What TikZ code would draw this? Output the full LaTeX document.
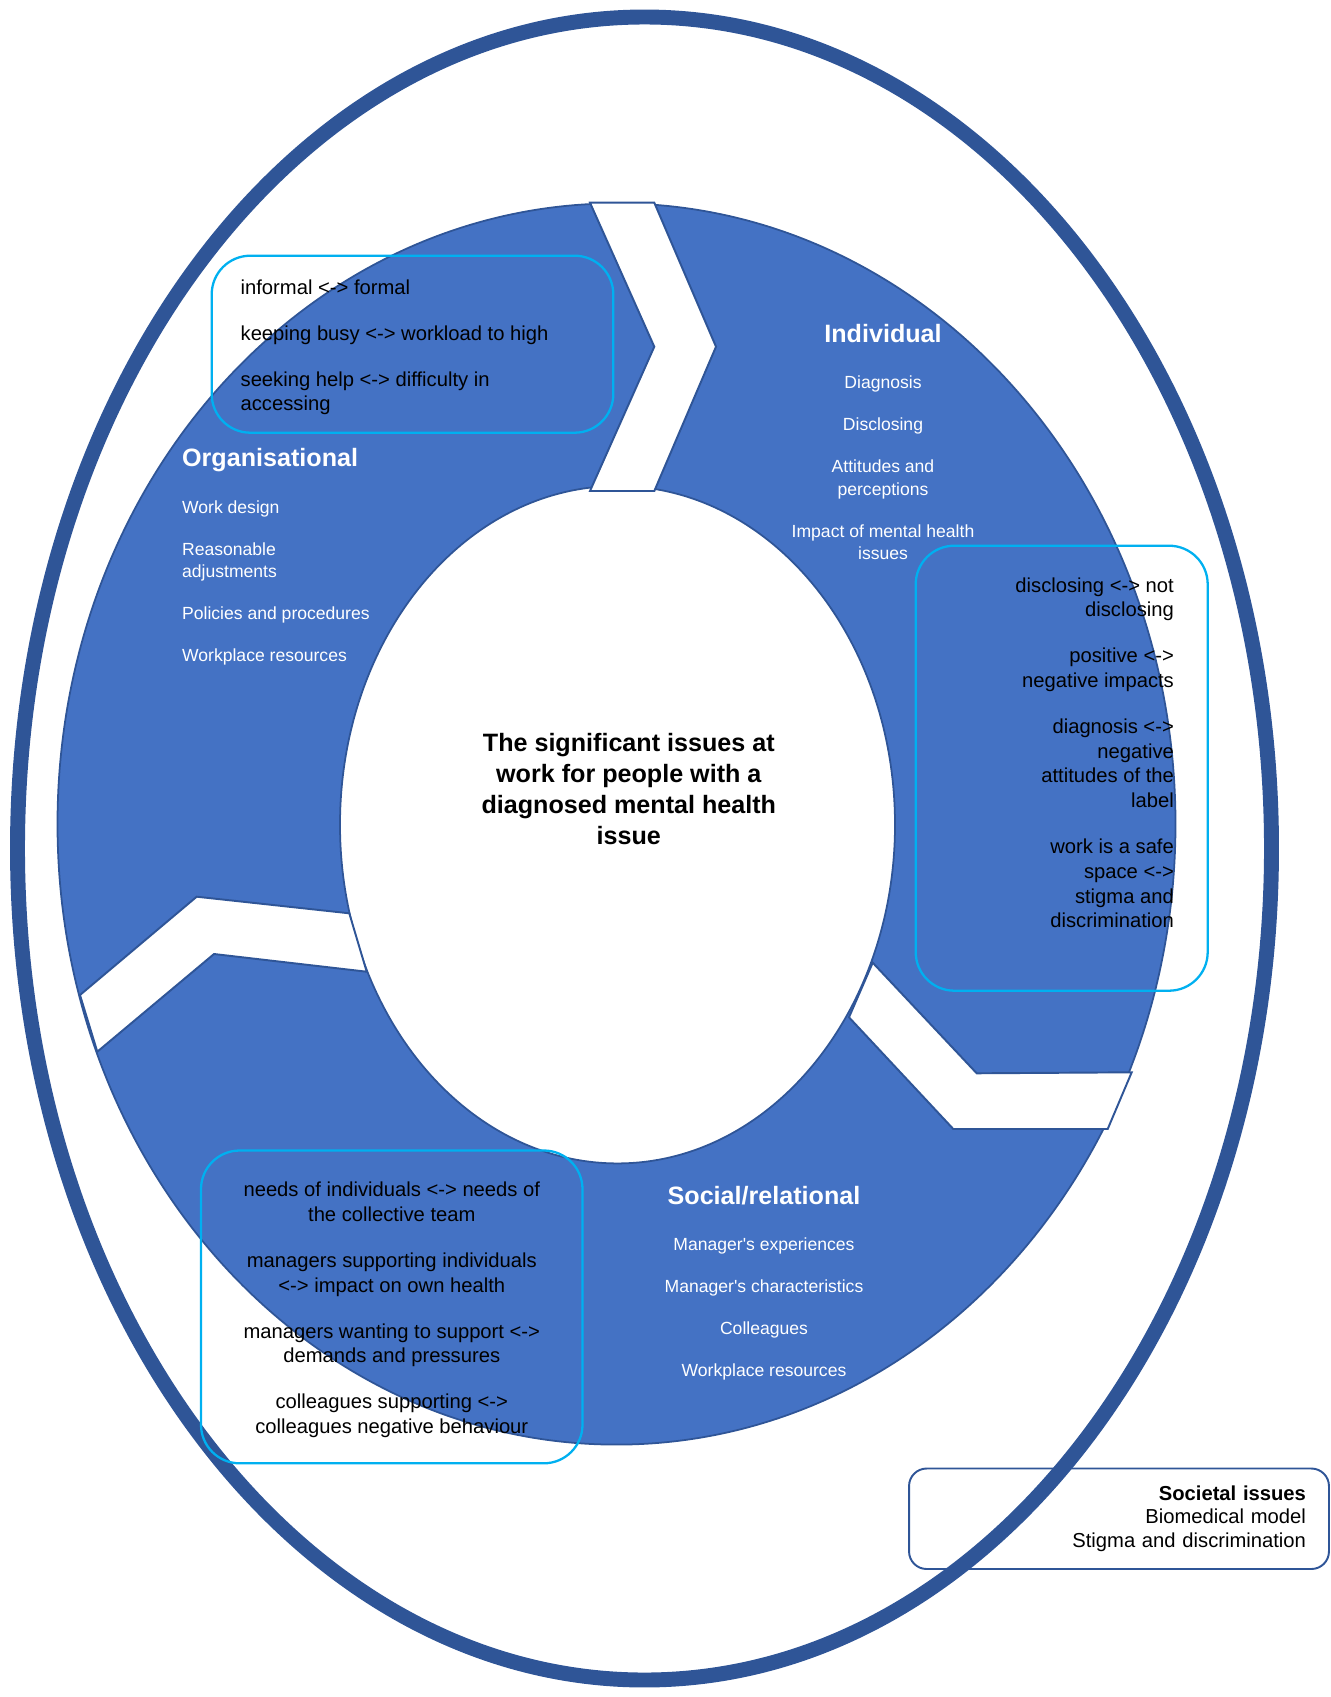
\documentclass[tikz,border=0pt]{standalone}
\usepackage{fontspec}
\setmainfont{Liberation Sans}
\usepackage{xcolor}
\usepackage{tikz}
\definecolor{ringblue}{HTML}{4472C4}
\definecolor{darkblue}{HTML}{2F5597}
\definecolor{boxcyan}{HTML}{00B0F0}

\begin{document}
\begin{tikzpicture}[x=0.02cm, y=-0.02cm,
  ring/.style={fill=ringblue, draw=darkblue, line width=1pt, even odd rule},
  chevron/.style={fill=white, draw=darkblue, line width=1.1pt},
  pairbox/.style={draw=boxcyan, line width=1.3pt, rounded corners=22pt},
  pairtext/.style={inner sep=0pt, font=\fontsize{11.5}{14.1}\selectfont},
  headtext/.style={inner sep=0pt, text=white, font=\fontsize{14.3}{17.8}\selectfont\bfseries},
  listtext/.style={inner sep=0pt, text=white, font=\fontsize{10}{12.9}\selectfont}]
\useasboundingbox (0,0) rectangle (1330,1697);
\node[draw=darkblue, line width=1.1pt, rounded corners=10pt, minimum height=2.01cm, text width=7.48cm, inner xsep=0.46cm, align=right, font=\fontsize{11.5}{13.5}\selectfont] (societal) at (1119,1518.75) {\textbf{Societal issues}\\Biomedical model\\Stigma and discrimination};
\draw[darkblue, line width=8.5pt] (644.5,848.5) ellipse [x radius=627, y radius=831.5];
\draw[ring] (616.5,824) ellipse [x radius=559, y radius=620.6] (617.5,824.7) ellipse [x radius=277.5, y radius=338.7];
\draw[chevron] (590,202.7) -- (654.3,202.7) -- (716,346.7) -- (654.3,491) -- (590,491) -- (654.3,346.7) -- cycle;
\draw[chevron] (80,995) -- (196.7,896.7) -- (349.3,913.3) -- (366.7,971.7) -- (214,954) -- (97.3,1051.7) -- cycle;
\draw[chevron] (872.7,962.7) -- (976.7,1073.3) -- (1131.7,1072.3) -- (1107.7,1129) -- (953.3,1129) -- (849,1017.3) -- cycle;
\node[align=center, inner sep=0pt, font=\fontsize{14.3}{17.8}\selectfont\bfseries] (title) at (628.8,789) {The significant issues at\\work for people with a\\diagnosed mental health\\issue};
\node[headtext] (indiv) at (883,334) {Individual};
\node[listtext, align=center] (indivlist) at (883,468) {Diagnosis\\[11pt]Disclosing\\[11pt]Attitudes and\\perceptions\\[11pt]Impact of mental health\\issues};
\node[headtext, anchor=west] (org) at (181.8,460.5) {Organisational};
\node[listtext, align=left, anchor=west] (orglist) at (181.8,583) {Work design\\[11pt]Reasonable\\adjustments\\[11pt]Policies and procedures\\[11pt]Workplace resources};
\node[headtext] (social) at (764,1196) {Social/relational};
\node[listtext, align=center] (sociallist) at (764,1308.5) {Manager\textquotesingle s experiences\\[11pt]Manager\textquotesingle s characteristics\\[11pt]Colleagues\\[11pt]Workplace resources};
\draw[pairbox] (211.7,255.7) rectangle (613.3,432.7);
\draw[pairbox] (915.7,545.7) rectangle (1207.7,990.7);
\draw[pairbox] (201,1150.5) rectangle (582.5,1463.3);
\node[pairtext, align=left, anchor=west] (orgpairs) at (240.3,347.5) {informal <-> formal\\[12pt]keeping busy <-> workload to high\\[12pt]seeking help <-> difficulty in\\accessing};
\node[pairtext, align=right, anchor=east] (indivpairs) at (1174.2,752.7) {disclosing <-> not\\disclosing\\[12pt]positive <->\\negative impacts\\[12pt]diagnosis <->\\negative\\attitudes of the\\label\\[12pt]work is a safe\\space <->\\stigma and\\discrimination};
\node[pairtext, align=center] (socialpairs) at (391.8,1310) {needs of individuals <-> needs of\\the collective team\\[12pt]managers supporting individuals\\<-> impact on own health\\[12pt]managers wanting to support <->\\demands and pressures\\[12pt]colleagues supporting <->\\colleagues negative behaviour};
\end{tikzpicture}
\end{document}
